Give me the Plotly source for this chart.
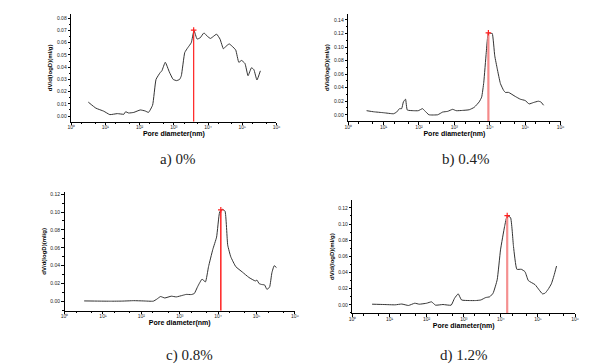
import plotly.graph_objects as go

# ---- data (log10 of pore diameter in nm, dV/d(logD) in ml/g) ----
a_logd = [0.50, 0.72, 0.95, 1.13, 1.35, 1.54, 1.59, 1.68, 1.83, 2.02, 2.16, 2.26, 2.38, 2.48, 2.60, 2.65,
          2.75, 2.87, 2.98, 3.08, 3.17, 3.22, 3.32, 3.41, 3.51, 3.59, 3.68, 3.77, 3.88, 3.99, 4.07, 4.15,
          4.25, 4.35, 4.45, 4.52, 4.62, 4.71, 4.81, 4.90, 4.98, 5.08, 5.17, 5.27, 5.34, 5.43, 5.53]
a_val = [0.0114, 0.0065, 0.0040, 0.0012, 0.0020, 0.0015, 0.0035, 0.0025, 0.0030, 0.0050, 0.0042, 0.0030,
         0.0090, 0.0300, 0.0355, 0.0370, 0.0440, 0.0360, 0.0300, 0.0290, 0.0300, 0.0330, 0.0520, 0.0560,
         0.0600, 0.0700, 0.0630, 0.0640, 0.0680, 0.0650, 0.0635, 0.0650, 0.0670, 0.0630, 0.0550, 0.0570,
         0.0590, 0.0570, 0.0540, 0.0440, 0.0455, 0.0430, 0.0330, 0.0395, 0.0380, 0.0295, 0.0370]

b_logd = [0.52, 0.72, 1.00, 1.28, 1.37, 1.45, 1.51, 1.56, 1.62, 1.67, 1.84, 1.98, 2.10, 2.16, 2.28, 2.53,
          2.67, 2.81, 2.95, 3.05, 3.23, 3.42, 3.56, 3.70, 3.77, 3.83, 3.90, 3.96, 4.03, 4.07, 4.14, 4.21,
          4.30, 4.39, 4.44, 4.53, 4.72, 4.86, 5.00, 5.11, 5.23, 5.37, 5.44, 5.52]
b_val = [0.0060, 0.0044, 0.0030, 0.0015, 0.0040, 0.0090, 0.0090, 0.0190, 0.0230, 0.0070, 0.0060, 0.0060,
         0.0090, 0.0060, 0.0000, 0.0000, 0.0040, 0.0050, 0.0080, 0.0060, 0.0064, 0.0074, 0.0110, 0.0190,
         0.0260, 0.0480, 0.0920, 0.1210, 0.1200, 0.1200, 0.0870, 0.0680, 0.0460, 0.0360, 0.0330, 0.0330,
         0.0270, 0.0230, 0.0210, 0.0160, 0.0180, 0.0200, 0.0190, 0.0140]

c_logd = [0.51, 0.90, 1.20, 1.50, 1.80, 2.05, 2.31, 2.40, 2.50, 2.61, 2.78, 2.91, 3.08, 3.17, 3.30, 3.38,
          3.47, 3.58, 3.67, 3.75, 3.86, 3.96, 4.04, 4.11, 4.18, 4.25, 4.33, 4.46, 4.63, 4.80, 4.97, 5.01,
          5.07, 5.14, 5.21, 5.27, 5.34, 5.40, 5.46, 5.52]
c_val = [0.0007, 0.0005, 0.0004, 0.0005, 0.0010, 0.0007, 0.0004, 0.0026, 0.0056, 0.0040, 0.0060, 0.0052,
         0.0070, 0.0080, 0.0078, 0.0090, 0.0170, 0.0250, 0.0220, 0.0390, 0.0580, 0.0720, 0.1000, 0.1030,
         0.1010, 0.0630, 0.0500, 0.0390, 0.0330, 0.0270, 0.0230, 0.0240, 0.0200, 0.0190, 0.0186, 0.0137,
         0.0160, 0.0320, 0.0400, 0.0380]

d_logd = [0.53, 0.85, 1.15, 1.33, 1.51, 1.68, 1.80, 2.00, 2.13, 2.24, 2.44, 2.66, 2.75, 2.85, 2.94, 3.15,
          3.32, 3.46, 3.59, 3.70, 3.79, 3.90, 3.99, 4.10, 4.17, 4.26, 4.34, 4.43, 4.55, 4.65, 4.74, 4.92,
          5.03, 5.12, 5.19, 5.27, 5.36, 5.43, 5.50]
d_val = [0.0008, 0.0004, 0.0000, 0.0010, -0.0008, 0.0020, 0.0008, 0.0020, 0.0037, -0.0004, 0.0004, -0.0004,
         0.0080, 0.0136, 0.0060, 0.0053, 0.0053, 0.0060, 0.0090, 0.0100, 0.0144, 0.0310, 0.0680, 0.0970,
         0.1100, 0.1080, 0.0720, 0.0440, 0.0440, 0.0410, 0.0300, 0.0250, 0.0185, 0.0136, 0.0144, 0.0190,
         0.0260, 0.0360, 0.0480]

# most probable pore diameter (log10 nm) and peak value marked in red
peak_logd = [3.58, 3.96, 4.07, 4.17]
peak_val = [0.0703, 0.1210, 0.1025, 0.1105]

panel_titles = ["a) 0%", "b) 0.4%", "c) 0.8%", "d) 1.2%"]
x_tick_vals = [1, 10, 100, 1000, 10000, 100000, 1000000]
x_tick_text = ["10⁰", "10¹", "10²", "10³", "10⁴", "10⁵", "10⁶"]
y_tick_steps = [0.01, 0.02, 0.02, 0.02]
y_titles = ["dV/d(logD)(ml/g)"] * 4

# ---- layout geometry (pixels in a 602x364 canvas) ----
W, H = 602, 364
panels = [
    dict(x0=60.0, x1=268.0, ytop=5.0, ybot=113.0, yr=[-0.0046, 0.0835], red="#ff2020", rw=1.2, tx=168, ty=151),
    dict(x0=340.7, x1=556.0, ytop=5.0, ybot=112.7, yr=[-0.0098, 0.1488], red="#f48a8a", rw=2.2, tx=460, ty=151),
    dict(x0=53.3, x1=286.7, ytop=183.3, ybot=302.7, yr=[-0.0104, 0.1226], red="#ff3030", rw=1.6, tx=180, ty=347),
    dict(x0=345.0, x1=570.7, ytop=191.7, ybot=305.0, yr=[-0.0103, 0.1295], red="#f49090", rw=2.2, tx=458, ty=347),
]
series = [(a_logd, a_val), (b_logd, b_val), (c_logd, c_val), (d_logd, d_val)]

fig = go.Figure()
annotations = []
for i, (p, (lx, vy)) in enumerate(zip(panels, series)):
    n = "" if i == 0 else str(i + 1)
    xa, ya = "x" + n, "y" + n
    xs = [10 ** v for v in lx]
    fig.add_trace(go.Scatter(x=xs, y=vy, xaxis=xa, yaxis=ya, mode="lines",
                             line=dict(color="#333333", width=1.0, shape="spline", smoothing=0.4),
                             showlegend=False, hoverinfo="skip"))
    px = 10 ** peak_logd[i]
    fig.add_trace(go.Scatter(x=[px, px], y=[p["yr"][0], peak_val[i]], xaxis=xa, yaxis=ya, mode="lines",
                             line=dict(color=p["red"], width=p["rw"]), showlegend=False, hoverinfo="skip"))
    fig.add_trace(go.Scatter(x=[px], y=[peak_val[i]], xaxis=xa, yaxis=ya, mode="markers",
                             marker=dict(symbol="cross-thin", size=4, line=dict(color="#ff2020", width=1.2)),
                             showlegend=False, hoverinfo="skip"))

    dx = [p["x0"] / W, p["x1"] / W]
    dy = [1 - p["ybot"] / H, 1 - p["ytop"] / H]
    step = y_tick_steps[i]
    fig.layout["xaxis" + n] = dict(
        domain=dx, anchor=ya, type="log", range=[0, 6],
        tickvals=x_tick_vals, ticktext=x_tick_text,
        tickfont=dict(family="Liberation Sans", size=5, color="#222"),
        ticks="outside", ticklen=2.5, tickwidth=1, tickcolor="#000",
        ticklabelstandoff=-2,
        minor=dict(ticks="outside", ticklen=1.5, tickwidth=0.8, tickcolor="#000", showgrid=False),
        showline=True, linecolor="#000", linewidth=1, mirror=False,
        showgrid=False, zeroline=False,
        title=dict(text="<b>Pore diameter(nm)</b>", standoff=1,
                   font=dict(family="Liberation Sans", size=7, color="#000000")),
    )
    fig.layout["yaxis" + n] = dict(
        domain=dy, anchor=xa, range=p["yr"],
        tick0=0, dtick=step, tickformat=".2f",
        tickfont=dict(family="Liberation Sans", size=5, color="#222"),
        ticks="outside", ticklen=2.5, tickwidth=1, tickcolor="#000",
        minor=dict(ticks="outside", ticklen=1.5, tickwidth=0.8, tickcolor="#000", nticks=3, showgrid=False),
        showline=True, linecolor="#000", linewidth=1, mirror=False,
        showgrid=False, zeroline=False,
        title=dict(text="<b>" + y_titles[i] + "</b>", standoff=3,
                   font=dict(family="Liberation Sans", size=6, color="#000000")),
    )
    annotations.append(dict(text=panel_titles[i], x=p["tx"] / W, y=1 - p["ty"] / H,
                            xref="paper", yref="paper", showarrow=False,
                            xanchor="center", yanchor="middle",
                            font=dict(family="Liberation Serif", size=15, color="#222")))

fig.update_layout(width=W, height=H, margin=dict(l=0, r=0, t=0, b=0),
                  paper_bgcolor="white", plot_bgcolor="white",
                  annotations=annotations, showlegend=False)
fig.write_html("out.html")
